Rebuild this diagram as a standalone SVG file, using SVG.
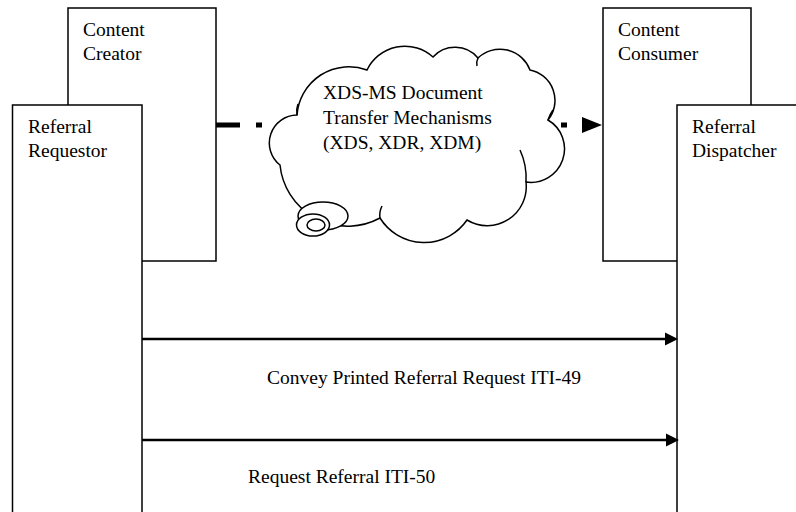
<svg xmlns="http://www.w3.org/2000/svg" width="796" height="512" viewBox="0 0 796 512">
<style>
.box{fill:#fff;stroke:#000;stroke-width:1.5}
.lbl{font-family:"Liberation Serif","Times New Roman",serif;font-size:19.5px;fill:#000}
.msg{fill:none;stroke:#000;stroke-width:2.5}
.flow{fill:none;stroke:#000;stroke-width:5;stroke-dasharray:24 16 6 15}
.cloud{fill:#fff;stroke:#000;stroke-width:1.5}
.inner{fill:none;stroke:#000;stroke-width:1.5}
</style>
<defs>
<marker id="ah" markerUnits="userSpaceOnUse" markerWidth="14" markerHeight="14" refX="5" refY="7" orient="auto">
<path d="M0,0.5 L13,7 L0,13.5 z" fill="#000"/>
</marker>
<marker id="ahBig" markerUnits="userSpaceOnUse" markerWidth="22" markerHeight="18" refX="2" refY="9" orient="auto">
<path d="M0,1 L20,9 L0,17 z" fill="#000"/>
</marker>
</defs>
<rect width="796" height="512" fill="#fff"/>
<g id="content-creator">
<rect class="box" x="68" y="8" width="148" height="253"/>
<text class="lbl" x="83" y="36">Content</text>
<text class="lbl" x="83" y="60">Creator</text>
</g>
<g id="referral-requestor">
<rect class="box" x="12.5" y="105" width="129.5" height="420"/>
<text class="lbl" x="28" y="133">Referral</text>
<text class="lbl" x="28" y="157">Requestor</text>
</g>
<g id="content-consumer">
<rect class="box" x="603" y="8" width="148" height="253"/>
<text class="lbl" x="618" y="36">Content</text>
<text class="lbl" x="618" y="60">Consumer</text>
</g>
<g id="referral-dispatcher">
<rect class="box" x="677" y="105" width="140" height="420"/>
<text class="lbl" x="692" y="133">Referral</text>
<text class="lbl" x="692" y="157">Dispatcher</text>
</g>
<g id="connectors">
<path class="flow" d="M216,125 H584" marker-end="url(#ahBig)"/>
<path class="msg" d="M142,339 H670" marker-end="url(#ah)"/>
<path class="msg" d="M142,440 H671" marker-end="url(#ah)"/>
<text class="lbl" x="267" y="384">Convey Printed Referral Request ITI-49</text>
<text class="lbl" x="248" y="483">Request Referral ITI-50</text>
</g>
<g id="transfer-cloud">
<path class="cloud" d="M297,115 A52,52 0 0 1 367,70 A42,42 0 0 1 433,57 A30,30 0 0 1 478,58 A32,32 0 0 1 530,70 A31,31 0 0 1 548,120 A33.5,33.5 0 0 1 526,182 A39,39 0 0 1 467,220 A52,52 0 0 1 380,218 A68,68 0 0 1 280,165 A28,28 0 0 1 297,115 Z"/>
<path class="inner" d="M297,115 Q296,109 298,104"/>
<path class="inner" d="M548,120 Q550,114 553,110"/>
<path class="inner" d="M526,182 Q527,165 520,150"/>
<path class="inner" d="M380,218 Q379,212 382,206"/>
<path class="inner" d="M478,58 Q476,62 477,66"/>
<ellipse class="cloud" cx="323" cy="216" rx="25" ry="14"/>
<ellipse class="cloud" cx="313" cy="225" rx="16.5" ry="11"/>
<ellipse class="cloud" cx="316" cy="225" rx="9" ry="6"/>
<text class="lbl" x="323" y="99">XDS-MS Document</text>
<text class="lbl" x="323" y="124">Transfer Mechanisms</text>
<text class="lbl" x="323" y="149">(XDS, XDR, XDM)</text>
</g>
</svg>
